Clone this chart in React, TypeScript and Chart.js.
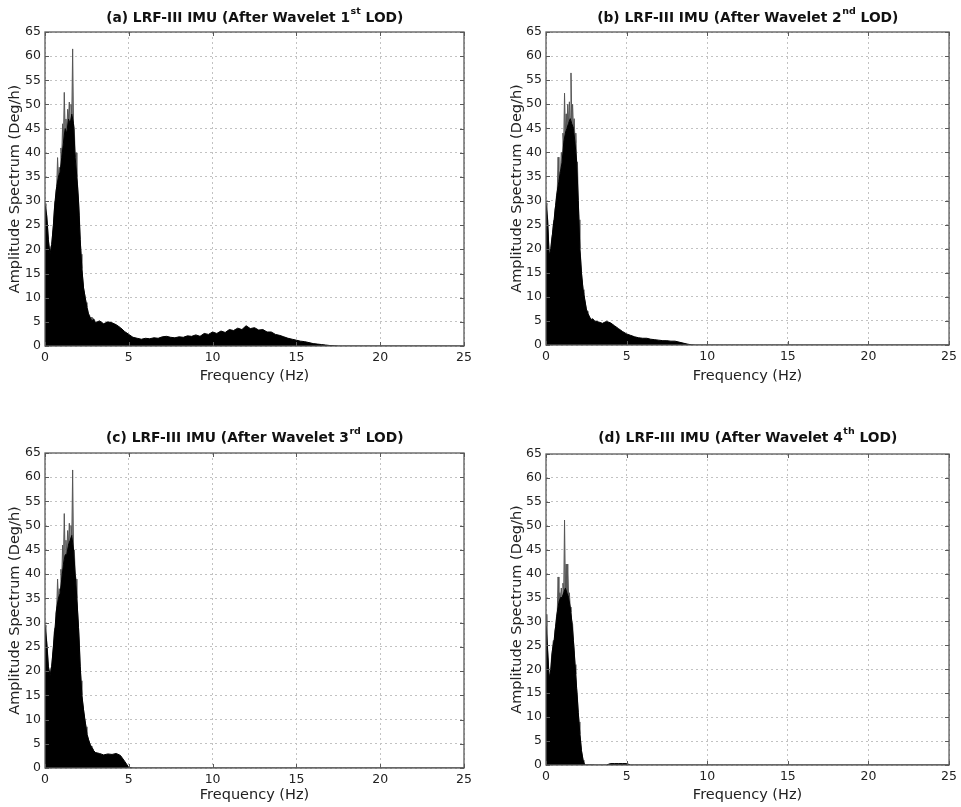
import React, { useEffect, useRef } from "react";
import { Chart, registerables } from "chart.js";

Chart.register(...registerables);

// ---------- data ----------
const frequencyHz = [
  0, 0.1, 0.2, 0.3, 0.4, 0.5, 0.6, 0.7, 0.8, 0.9,
  1.0, 1.1, 1.2, 1.3, 1.4, 1.5, 1.6, 1.7, 1.8, 1.9,
  2.0, 2.1, 2.2, 2.3, 2.4, 2.5, 2.6, 2.7, 2.8, 2.9, 3.0,
  3.25, 3.5, 3.75, 4.0, 4.25, 4.5, 4.75, 5.0, 5.25, 5.5, 5.75, 6.0,
  6.25, 6.5, 6.75, 7.0, 7.25, 7.5, 7.75, 8.0, 8.25, 8.5, 8.75, 9.0,
  9.25, 9.5, 9.75, 10.0, 10.25, 10.5, 10.75, 11.0, 11.25, 11.5, 11.75, 12.0,
  12.25, 12.5, 12.75, 13.0, 13.25, 13.5, 13.75, 14.0, 14.25, 14.5, 14.75, 15.0,
  15.25, 15.5, 15.75, 16.0, 16.25, 16.5, 16.75, 17.0, 17.25, 17.5, 17.75, 18.0,
  19, 20, 21, 22, 23, 24, 25,
];

const amplitudeA = [
  29, 27, 22, 19, 21, 25, 30, 33, 35, 36,
  39, 42, 45, 44, 47, 46, 48, 46, 39, 35,
  30, 22, 16, 12, 10, 8, 6.5, 5.8, 5.2, 5.5, 4.8,
  5.2, 4.6, 5.0, 4.8, 4.4, 3.8, 3.0, 2.4, 1.8, 1.6, 1.4, 1.6,
  1.5, 1.7, 1.6, 1.9, 2.0, 1.8, 1.7, 1.9, 1.8, 2.1, 2.0, 2.3,
  2.0, 2.6, 2.4, 2.9, 2.6, 3.1, 2.8, 3.4, 3.2, 3.7, 3.4, 4.2,
  3.6, 3.8, 3.3, 3.4, 2.9, 2.9, 2.4, 2.2, 1.9, 1.6, 1.4, 1.2,
  1.0, 0.9, 0.7, 0.5, 0.4, 0.3, 0.2, 0.1, 0.05, 0, 0, 0,
  0, 0, 0, 0, 0, 0, 0,
];

const amplitudeB = [
  29, 26, 18.5, 20, 23, 26, 29, 32, 34, 36,
  38, 42, 44, 45, 46, 47, 46, 45, 42, 38,
  30, 20, 15, 11.5, 9.5, 7.5, 6.5, 5.8, 5.2, 5.4, 5.0,
  4.8, 4.5, 4.9, 4.6, 4.0, 3.4, 2.8, 2.3, 2.0, 1.7, 1.5, 1.4,
  1.4, 1.2, 1.1, 1.0, 0.9, 0.9, 0.8, 0.8, 0.6, 0.4, 0.2, 0.05,
  0, 0, 0, 0, 0, 0, 0, 0, 0, 0, 0, 0,
  0, 0, 0, 0, 0, 0, 0, 0, 0, 0, 0, 0,
  0, 0, 0, 0, 0, 0, 0, 0, 0, 0, 0, 0,
  0, 0, 0, 0, 0, 0, 0,
];

const amplitudeC = [
  29, 26, 21, 19, 21, 25, 29, 33, 35, 36,
  39, 42, 44, 44, 46, 47, 48, 45, 40, 35,
  29, 21, 15, 12, 9.5, 7, 5.8, 4.8, 4.2, 3.6, 3.2,
  3.0, 2.7, 2.9, 2.8, 3.0, 2.6, 1.4, 0.1, 0, 0, 0, 0,
  0, 0, 0, 0, 0, 0, 0, 0, 0, 0, 0, 0,
  0, 0, 0, 0, 0, 0, 0, 0, 0, 0, 0, 0,
  0, 0, 0, 0, 0, 0, 0, 0, 0, 0, 0, 0,
  0, 0, 0, 0, 0, 0, 0, 0, 0, 0, 0, 0,
  0, 0, 0, 0, 0, 0, 0,
];

const amplitudeD = [
  29, 24, 18, 20, 24, 26, 29, 32, 34, 35,
  35, 36, 37, 36, 35, 33, 30, 26, 21, 16,
  11, 6.5, 3, 1, 0, 0, 0, 0, 0, 0, 0,
  0, 0, 0, 0.3, 0.3, 0.3, 0.3, 0.3, 0, 0, 0, 0,
  0, 0, 0, 0, 0, 0, 0, 0, 0, 0, 0, 0,
  0, 0, 0, 0, 0, 0, 0, 0, 0, 0, 0, 0,
  0, 0, 0, 0, 0, 0, 0, 0, 0, 0, 0, 0,
  0, 0, 0, 0, 0, 0, 0, 0, 0, 0, 0, 0,
  0, 0, 0, 0, 0, 0, 0,
];

// isolated spikes between the dense samples
const peakFrequencyHz = [
  0.05, 0.15, 0.25, 0.35, 0.45, 0.55, 0.65, 0.75, 0.85, 0.95,
  1.05, 1.15, 1.25, 1.35, 1.45, 1.55, 1.65, 1.75, 1.85, 1.95,
  2.05, 2.15, 2.25, 2.35, 2.45, 2.55, 2.65, 2.75, 2.85, 2.95,
];
const peakA = [
  29.5, 25, 20, 20.5, 23, 28, 32, 39, 37, 41,
  46, 52.5, 47, 49, 50.5, 50, 61.5, 45, 40, 33,
  27, 19, 14, 11, 9, 7.5, 6.5, 6, 5.8, 5.5,
];
const peakB = [
  29.5, 22, 19, 22, 25, 28, 31, 39, 36, 40,
  44, 52.3, 48, 50, 50.5, 56.5, 50, 47, 44, 38,
  26, 18, 13, 10.5, 8.5, 7, 6.2, 5.6, 5.5, 5.3,
];
const peakC = [
  29.5, 24, 20, 20.5, 23, 28, 32, 39, 37, 41,
  46, 52.5, 47, 49, 50.5, 50, 61.5, 45, 39, 32,
  26, 18, 13.5, 10.5, 8.5, 6.5, 5.3, 4.5, 4, 3.4,
];
const peakD = [
  31.5, 21, 19, 23, 26, 28, 31, 39.3, 36, 37,
  38, 51.2, 42, 42, 36, 32, 29.5, 24, 19, 14,
  9, 5, 2, 0.5, 0, 0, 0, 0, 0, 0,
];

const xTickValues = [0, 5, 10, 15, 20, 25];
const yTickValues = [0, 5, 10, 15, 20, 25, 30, 35, 40, 45, 50, 55, 60, 65];

const titleMain = [
  "(a) LRF-III IMU (After Wavelet 1",
  "(b) LRF-III IMU (After Wavelet 2",
  "(c) LRF-III IMU (After Wavelet 3",
  "(d) LRF-III IMU (After Wavelet 4",
];
const titleSup = ["st", "nd", "rd", "th"];
const titleEnd = " LOD)";
const xAxisTitle = "Frequency (Hz)";
const yAxisTitle = "Amplitude Spectrum (Deg/h)";

const panelAmplitudes = [amplitudeA, amplitudeB, amplitudeC, amplitudeD];
const panelPeaks = [peakA, peakB, peakC, peakD];

// ---------- layout ----------
type Layout = {
  left: number; top: number; width: number; height: number;
  padTop: number; padRight: number; yAxisWidth: number; xAxisHeight: number;
  yTitlePad: number; xTitlePad: number; titleBaseline: number;
};

const PANEL_LAYOUTS: Layout[] = [
  { left: 0, top: 0, width: 480, height: 400, padTop: 32, padRight: 16, yAxisWidth: 45, xAxisHeight: 54, yTitlePad: 6.8, xTitlePad: 15.3, titleBaseline: 22 },
  { left: 480, top: 0, width: 481, height: 400, padTop: 32, padRight: 10, yAxisWidth: 66, xAxisHeight: 55, yTitlePad: 28.8, xTitlePad: 15.3, titleBaseline: 22 },
  { left: 0, top: 420, width: 480, height: 387, padTop: 33, padRight: 16, yAxisWidth: 45, xAxisHeight: 39, yTitlePad: 6.8, xTitlePad: 2.8, titleBaseline: 22 },
  { left: 480, top: 420, width: 481, height: 387, padTop: 34, padRight: 10, yAxisWidth: 66, xAxisHeight: 42, yTitlePad: 28.8, xTitlePad: 2.8, titleBaseline: 22 },
];

const FONT = "'DejaVu Sans', 'Liberation Sans', sans-serif";

function SpectrumPanel({ index }: { index: number }) {
  const ref = useRef<HTMLCanvasElement | null>(null);
  const layout = PANEL_LAYOUTS[index];

  useEffect(() => {
    const canvas = ref.current;
    if (!canvas) return;
    const amps = panelAmplitudes[index];
    const peaks = panelPeaks[index];

    const densePoints = frequencyHz.map((f, i) => ({ x: f, y: amps[i] }));
    // spikes: alternate between the dense samples and the isolated peaks
    const spikePoints = [
      ...densePoints.filter((p) => p.x <= 3),
      ...peakFrequencyHz.map((f, i) => ({ x: f, y: peaks[i] })),
    ].sort((p, q) => p.x - q.x);

    const framePlugin = {
      id: "matlabFrame",
      afterDatasetsDraw(chart: any) {
        const { ctx, chartArea: a, scales } = chart;
        ctx.save();
        ctx.strokeStyle = "#5a5a5a";
        ctx.lineWidth = 1;
        ctx.beginPath();
        xTickValues.forEach((v) => {
          const p = Math.round(scales.x.getPixelForValue(v)) + 0.5;
          ctx.moveTo(p, a.bottom);
          ctx.lineTo(p, a.bottom - 4);
          ctx.moveTo(p, a.top);
          ctx.lineTo(p, a.top + 4);
        });
        yTickValues.forEach((v) => {
          const p = Math.round(scales.y.getPixelForValue(v)) + 0.5;
          ctx.moveTo(a.left, p);
          ctx.lineTo(a.left + 4, p);
          ctx.moveTo(a.right, p);
          ctx.lineTo(a.right - 4, p);
        });
        ctx.stroke();
        ctx.lineWidth = 1.3;
        ctx.strokeRect(a.left, a.top, a.right - a.left, a.bottom - a.top);
        ctx.restore();
      },
    };

    const titlePlugin = {
      id: "supTitle",
      afterDraw(chart: any) {
        const { ctx, chartArea: a } = chart;
        const main = `bold 13.8px ${FONT}`;
        const small = `bold 9.5px ${FONT}`;
        const prefix = titleMain[index];
        const sup = titleSup[index];
        ctx.save();
        ctx.textAlign = "left";
        ctx.textBaseline = "alphabetic";
        ctx.fillStyle = "#111";
        ctx.font = main;
        const w1 = ctx.measureText(prefix).width;
        const w3 = ctx.measureText(titleEnd).width;
        ctx.font = small;
        const w2 = ctx.measureText(sup).width;
        let x = (a.left + a.right) / 2 - (w1 + w2 + w3) / 2;
        const y = layout.titleBaseline;
        ctx.font = main;
        ctx.fillText(prefix, x, y);
        x += w1;
        ctx.font = small;
        ctx.fillText(sup, x + 0.5, y - 8);
        x += w2 + 0.5;
        ctx.font = main;
        ctx.fillText(titleEnd, x, y);
        ctx.restore();
      },
    };

    const chart = new Chart(canvas, {
      type: "line",
      data: {
        datasets: [
          {
            data: spikePoints,
            borderColor: "#555",
            backgroundColor: "#8f8f8f",
            borderWidth: 1,
            fill: "origin",
            pointRadius: 0,
            tension: 0,
            order: 2,
          },
          {
            data: densePoints,
            borderColor: "#000",
            backgroundColor: "#000",
            borderWidth: 1,
            fill: "origin",
            pointRadius: 0,
            tension: 0,
            order: 1,
          },
        ],
      },
      options: {
        animation: false,
        responsive: false,
        maintainAspectRatio: false,
        events: [],
        layout: {
          padding: { top: layout.padTop, right: layout.padRight, bottom: 0, left: 0 },
        },
        plugins: {
          legend: { display: false },
          tooltip: { enabled: false },
          title: { display: false },
        },
        scales: {
          x: {
            type: "linear",
            min: 0,
            max: 25,
            afterBuildTicks: (s: any) => {
              s.ticks = xTickValues.map((v) => ({ value: v }));
            },
            afterFit: (s: any) => {
              s.height = layout.xAxisHeight;
            },
            ticks: {
              font: { family: FONT, size: 12.5 },
              color: "#222",
              padding: 4,
              maxRotation: 0,
              autoSkip: false,
            },
            grid: { color: "#c2c2c2", lineWidth: 1, drawTicks: false },
            border: { display: false, dash: [2, 3] },
            title: {
              display: true,
              text: xAxisTitle,
              font: { family: FONT, size: 14.5 },
              color: "#222",
              padding: { top: 0, bottom: layout.xTitlePad },
            },
          },
          y: {
            type: "linear",
            min: 0,
            max: 65,
            afterBuildTicks: (s: any) => {
              s.ticks = yTickValues.map((v) => ({ value: v }));
            },
            afterFit: (s: any) => {
              s.width = layout.yAxisWidth;
            },
            ticks: {
              font: { family: FONT, size: 12.5 },
              color: "#222",
              padding: 4,
              autoSkip: false,
            },
            grid: { color: "#c2c2c2", lineWidth: 1, drawTicks: false },
            border: { display: false, dash: [2, 3] },
            title: {
              display: true,
              text: yAxisTitle,
              font: { family: FONT, size: 14.5 },
              color: "#222",
              padding: { top: layout.yTitlePad, bottom: 0 },
            },
          },
        },
      },
      plugins: [framePlugin, titlePlugin],
    } as any);

    return () => chart.destroy();
  }, [index]);

  return (
    <div
      style={{
        position: "absolute",
        left: layout.left,
        top: layout.top,
        width: layout.width,
        height: layout.height,
      }}
    >
      <canvas ref={ref} width={layout.width} height={layout.height} style={{ display: "block" }} />
    </div>
  );
}

export default function App() {
  return (
    <div
      style={{
        position: "fixed",
        left: 0,
        top: 0,
        width: 961,
        height: 807,
        background: "#ffffff",
        overflow: "hidden",
      }}
    >
      {[0, 1, 2, 3].map((i) => (
        <SpectrumPanel key={i} index={i} />
      ))}
    </div>
  );
}
